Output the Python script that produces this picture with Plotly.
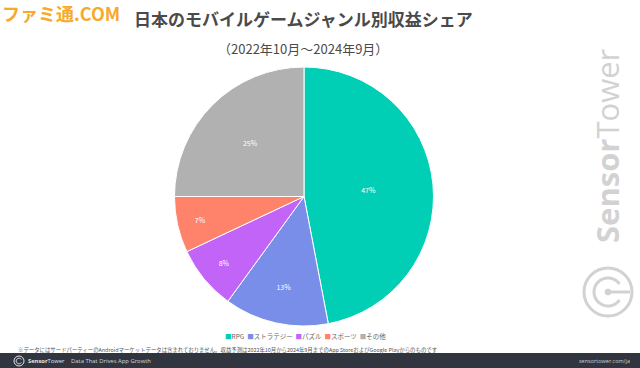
import math
import plotly.graph_objects as go

# ---- data ----
categories = ["RPG", "ストラテジー", "パズル", "スポーツ", "その他"]
shares = [47, 13, 8, 7, 25]
colors = ["#00CFB6", "#788EE9", "#C364F8", "#FF826A", "#B1B1B1"]

title_text = "日本のモバイルゲームジャンル別収益シェア"
subtitle_text = "（2022年10月～2024年9月）"
note_text = ("※データにはサードパーティーのAndroidマーケットデータは含まれておりません。"
             "収益予測は2022年10月から2024年9月までのApp StoreおよびGoogle Playからのものです")

W, H = 640, 368
FONT = "Noto Sans CJK JP"


def px(x):
    return x / W


def py(y):
    return 1 - y / H


cx, cy, r = 304, 196.5, 129.5

fig = go.Figure()
fig.add_trace(go.Pie(
    labels=categories,
    values=shares,
    sort=False,
    direction="clockwise",
    rotation=0,
    marker=dict(colors=colors, line=dict(color="white", width=1)),
    texttemplate="%{value}%",
    textposition="inside",
    insidetextorientation="horizontal",
    textfont=dict(family=FONT, size=7, color="white"),
    hoverinfo="label+percent",
    domain=dict(x=[px(cx - r), px(cx + r)], y=[py(cy + r), py(cy - r)]),
    showlegend=False,
))

ann = []
# title & subtitle
ann.append(dict(text="<b>" + title_text + "</b>", x=px(303), y=py(19), xref="paper", yref="paper",
                showarrow=False, font=dict(family=FONT, size=17, color="#4a4a4a"),
                xanchor="center", yanchor="middle"))
ann.append(dict(text=subtitle_text, x=px(303), y=py(48), xref="paper", yref="paper",
                showarrow=False, font=dict(family=FONT, size=13, color="#4a4a4a"),
                xanchor="center", yanchor="middle"))
# famitsu logo
ann.append(dict(text="<b>ファミ通.COM</b>", x=px(0), y=py(13), xref="paper", yref="paper",
                showarrow=False, font=dict(family=FONT, size=18, color="#F7AA2A"),
                xanchor="left", yanchor="middle"))
# legend built from category arrays
legend_parts = []
for c, col in zip(categories, colors):
    legend_parts.append("<span style='color:%s'>■</span>%s" % (col, c))
ann.append(dict(text="&nbsp;&nbsp;".join(legend_parts), x=px(305), y=py(336), xref="paper", yref="paper",
                showarrow=False, font=dict(family=FONT, size=6.5, color="#666666"),
                xanchor="center", yanchor="middle"))
# note
ann.append(dict(text=note_text, x=px(16), y=py(349.5), xref="paper", yref="paper",
                showarrow=False, font=dict(family=FONT, size=5.4, color="#555555"),
                xanchor="left", yanchor="middle"))
# footer texts
ann.append(dict(text="<b>Sensor</b>Tower", x=px(26), y=py(361), xref="paper", yref="paper",
                showarrow=False, font=dict(family="Open Sans", size=5.8, color="#e6e6e6"),
                xanchor="left", yanchor="middle"))
ann.append(dict(text="Data That Drives App Growth", x=px(69), y=py(361), xref="paper", yref="paper",
                showarrow=False, font=dict(family="Open Sans", size=5.9, color="#d8d8d8"),
                xanchor="left", yanchor="middle"))
ann.append(dict(text="sensortower.com/ja", x=px(632), y=py(361), xref="paper", yref="paper",
                showarrow=False, font=dict(family="Open Sans", size=5.5, color="#cfcfcf"),
                xanchor="right", yanchor="middle"))
# vertical watermark
ann.append(dict(text="<b>Sensor</b>Tower", x=px(607), y=py(146), xref="paper", yref="paper",
                showarrow=False, textangle=-90, font=dict(family="Open Sans", size=31, color="#d2d2d2"),
                xanchor="center", yanchor="middle"))

shapes = []
# footer bar
shapes.append(dict(type="rect", xref="paper", yref="paper", x0=0, x1=1, y0=0, y1=py(353),
                   fillcolor="#30353f", line=dict(width=0), layer="below"))
# footer small logo
shapes.append(dict(type="circle", xref="paper", yref="paper", x0=px(14), x1=px(24), y0=py(366), y1=py(356),
                   line=dict(color="#e6e6e6", width=1)))


def arc_path(x0, y0, rad, a0, a1, n=40):
    pts = []
    for i in range(n + 1):
        a = math.radians(a0 + (a1 - a0) * i / n)
        pts.append((x0 + rad * math.cos(a), y0 - rad * math.sin(a)))
    return "M " + " L ".join("%.4f,%.4f" % (px(x), py(y)) for x, y in pts)


# watermark logo
lcx, lcy = 608, 292
wm = "#d2d2d2"
shapes.append(dict(type="circle", xref="paper", yref="paper", x0=px(lcx - 24), x1=px(lcx + 24),
                   y0=py(lcy + 24), y1=py(lcy - 24), line=dict(color=wm, width=3)))
shapes.append(dict(type="path", xref="paper", yref="paper", path=arc_path(lcx, lcy, 14, 35, 325),
                   line=dict(color=wm, width=3)))
shapes.append(dict(type="line", xref="paper", yref="paper", x0=px(lcx), x1=px(lcx + 22), y0=py(lcy), y1=py(lcy),
                   line=dict(color=wm, width=3)))
shapes.append(dict(type="circle", xref="paper", yref="paper", x0=px(lcx - 3), x1=px(lcx + 3),
                   y0=py(lcy + 3), y1=py(lcy - 3), fillcolor=wm, line=dict(color=wm, width=1)))
# footer small logo inner
shapes.append(dict(type="path", xref="paper", yref="paper", path=arc_path(19, 361, 2.8, 35, 325, 20),
                   line=dict(color="#e6e6e6", width=1)))

fig.update_layout(
    width=W, height=H,
    margin=dict(l=0, r=0, t=0, b=0),
    paper_bgcolor="white",
    plot_bgcolor="white",
    annotations=ann,
    shapes=shapes,
    showlegend=False,
)

fig.write_html("out.html", config={"displayModeBar": False},
               post_script="document.body.style.margin='0';document.body.style.overflow='hidden';")
